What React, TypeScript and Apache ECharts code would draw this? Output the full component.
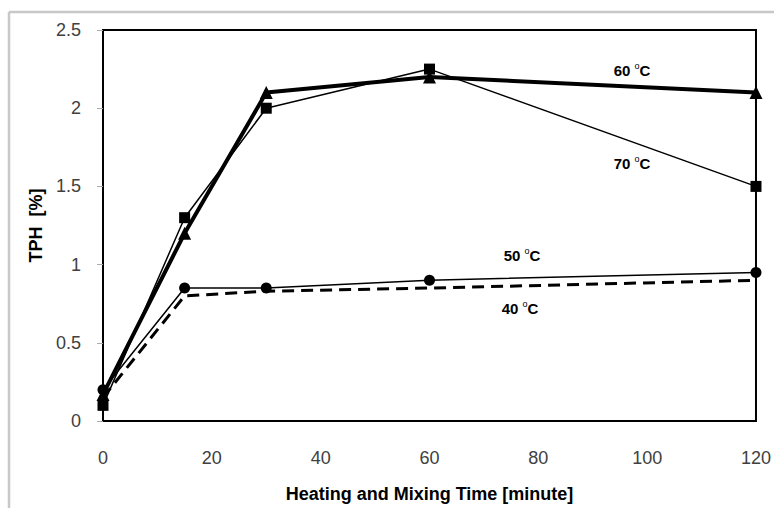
import React, { useEffect, useRef } from "react";
import * as echarts from "echarts";

const times = [0, 15, 30, 60, 120];
const tph40 = [0.15, 0.8, 0.83, 0.85, 0.9];
const tph50 = [0.2, 0.85, 0.85, 0.9, 0.95];
const tph60 = [0.17, 1.2, 2.1, 2.2, 2.1];
const tph70 = [0.1, 1.3, 2.0, 2.25, 1.5];
const xTitle = "Heating and Mixing Time [minute]";
const yTitle = "TPH  [%]";
const seriesLabels = [
  { t: "60", x: 632, y: 70 },
  { t: "70", x: 632, y: 163 },
  { t: "50", x: 522, y: 255 },
  { t: "40", x: 520, y: 308 },
];

const FONT = "Liberation Sans";

export default function App() {
  const ref = useRef<HTMLDivElement>(null);
  useEffect(() => {
    document.body.style.margin = "0";
    const chart = echarts.init(ref.current!, null, { renderer: "svg" });
    const pair = (ys: number[]) => times.map((t, i) => [t, ys[i]]);
    chart.setOption({
      animation: false,
      backgroundColor: "#fff",
      textStyle: { fontFamily: FONT },
      grid: {
        left: 103,
        top: 30,
        right: 17,
        bottom: 87,
        show: true,
        borderColor: "#000",
        borderWidth: 2,
      },
      xAxis: {
        type: "value",
        min: 0,
        max: 120,
        interval: 20,
        axisLine: { show: true, lineStyle: { color: "#000", width: 2 } },
        axisTick: { show: false },
        splitLine: { show: false },
        axisLabel: { color: "#404040", fontSize: 18, margin: 28, fontFamily: FONT },
        name: xTitle,
        nameLocation: "middle",
        nameGap: 64,
        nameTextStyle: { color: "#000", fontSize: 18, fontWeight: "bold", fontFamily: FONT },
      },
      yAxis: {
        type: "value",
        min: 0,
        max: 2.5,
        interval: 0.5,
        axisLine: { show: true, lineStyle: { color: "#000", width: 2 } },
        axisTick: { show: true, length: 6, lineStyle: { color: "#aaa", width: 1 } },
        splitLine: { show: false },
        axisLabel: { color: "#404040", fontSize: 18, margin: 22, fontFamily: FONT },
        name: yTitle,
        nameLocation: "middle",
        nameGap: 55,
        nameRotate: 90,
        nameTextStyle: { color: "#000", fontSize: 18, fontWeight: "bold", fontFamily: FONT },
      },
      series: [
        {
          name: "40",
          type: "line",
          data: pair(tph40),
          showSymbol: false,
          symbol: "none",
          lineStyle: { color: "#000", width: 3, type: [12, 7] },
        },
        {
          name: "50",
          type: "line",
          data: pair(tph50),
          symbol: "circle",
          symbolSize: 11,
          itemStyle: { color: "#000" },
          lineStyle: { color: "#000", width: 1.5 },
        },
        {
          name: "70",
          type: "line",
          data: pair(tph70),
          symbol: "rect",
          symbolSize: 11,
          itemStyle: { color: "#000" },
          lineStyle: { color: "#000", width: 1.5 },
        },
        {
          name: "60",
          type: "line",
          data: pair(tph60),
          symbol: "triangle",
          symbolSize: 13,
          itemStyle: { color: "#000" },
          lineStyle: { color: "#000", width: 4 },
        },
      ],
      graphic: [
        {
          type: "line",
          shape: { x1: 9, y1: 12, x2: 774, y2: 12 },
          style: { stroke: "#c8c8c8", lineWidth: 2.5 },
          silent: true,
        },
        {
          type: "line",
          shape: { x1: 9, y1: 12, x2: 9, y2: 508 },
          style: { stroke: "#c8c8c8", lineWidth: 2.5 },
          silent: true,
        },
        ...seriesLabels.map((l) => ({
          type: "text",
          x: l.x,
          y: l.y,
          style: {
            text: `{a|${l.t} }{s|o}{a|C}`,
            align: "center",
            verticalAlign: "middle",
            rich: {
              a: { fontSize: 15, fontWeight: "bold", fontFamily: FONT, fill: "#000", lineHeight: 17 },
              s: { fontSize: 9, fontWeight: "normal", fontFamily: FONT, fill: "#000", lineHeight: 11, verticalAlign: "top" },
            },
          },
        })),
      ],
    });
    return () => chart.dispose();
  }, []);
  return <div ref={ref} style={{ width: 774, height: 508, position: "absolute", left: 0, top: 0 }} />;
}
